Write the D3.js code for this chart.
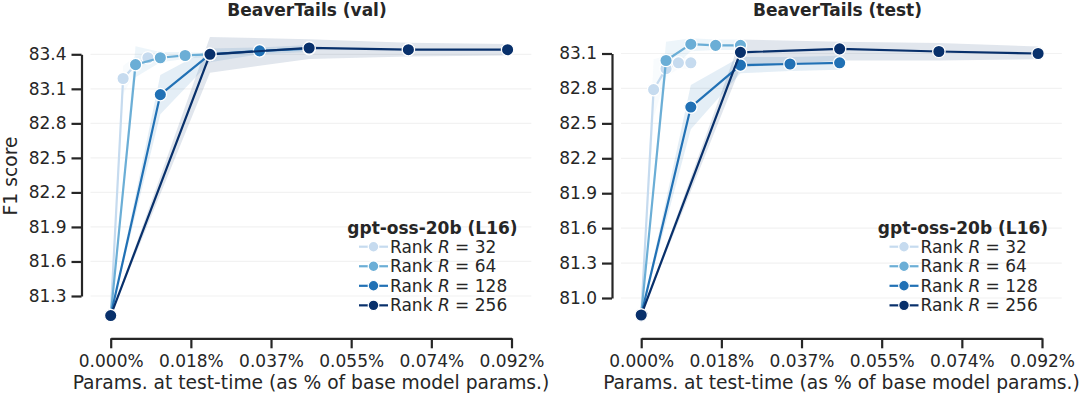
<!DOCTYPE html>
<html>
<head>
<meta charset="utf-8">
<script src="https://cdn.jsdelivr.net/npm/d3@7"></script>
<style>
  body { margin: 0; background: #fff; }
  svg text { font-family: "DejaVu Sans", sans-serif; fill: #262626; }
</style>
</head>
<body>
<svg id="chart" width="1080" height="397"></svg>
<script>
// ranks / colours (seaborn Blues, 4 steps)
const ranks = [32, 64, 128, 256];
const rankColors = ["#c6dbef", "#6baed6", "#2171b5", "#08306b"];

// params at test time, % of base model params (first point = base model)
const x_r32 = [0, 0.00285, 0.0057, 0.00854, 0.01139];
const x_r64 = [0, 0.0057, 0.01139, 0.01708, 0.02278];
const x_r128 = [0, 0.01139, 0.02278, 0.03416, 0.04555];
const x_r256 = [0, 0.02278, 0.04555, 0.06833, 0.0911];

const xTicks = [0, 0.0184, 0.0368, 0.0552, 0.0736, 0.092];
const xTickLabels = ["0.000%", "0.018%", "0.037%", "0.055%", "0.074%", "0.092%"];

// BeaverTails (val)
const val_r32 = [81.13, 83.19, 83.31, 83.37, 83.37];
const val_r64 = [81.13, 83.31, 83.37, 83.39, 83.40];
const val_r128 = [81.13, 83.05, 83.40, 83.43, 83.45];
const val_r256 = [81.13, 83.40, 83.455, 83.44, 83.44];
const val_r32_lo = [81.13, 83.05, 83.25, 83.33, 83.34];
const val_r32_hi = [81.13, 83.30, 83.38, 83.41, 83.41];
const val_r64_lo = [81.13, 83.20, 83.33, 83.36, 83.38];
const val_r64_hi = [81.13, 83.47, 83.42, 83.42, 83.41];
const val_r128_lo = [81.13, 82.88, 83.33, 83.40, 83.42];
const val_r128_hi = [81.13, 83.22, 83.45, 83.46, 83.48];
const val_r256_lo = [81.13, 83.24, 83.36, 83.38, 83.39];
const val_r256_hi = [81.13, 83.55, 83.53, 83.50, 83.49];
const valYTicks = [81.3, 81.6, 81.9, 82.2, 82.5, 82.8, 83.1, 83.4];

// BeaverTails (test)
const test_r32 = [80.854, 82.79, 82.97, 83.02, 83.02];
const test_r64 = [80.854, 83.04, 83.18, 83.17, 83.17];
const test_r128 = [80.854, 82.64, 83.00, 83.01, 83.02];
const test_r256 = [80.854, 83.11, 83.14, 83.117, 83.10];
const test_r32_lo = [80.854, 82.55, 82.90, 82.97, 82.97];
const test_r32_hi = [80.854, 83.05, 83.08, 83.07, 83.07];
const test_r64_lo = [80.854, 82.92, 83.12, 83.13, 83.13];
const test_r64_hi = [80.854, 83.20, 83.23, 83.22, 83.22];
const test_r128_lo = [80.854, 82.45, 82.93, 82.95, 82.96];
const test_r128_hi = [80.854, 82.83, 83.07, 83.07, 83.08];
const test_r256_lo = [80.854, 82.98, 83.04, 83.04, 83.05];
const test_r256_hi = [80.854, 83.22, 83.20, 83.19, 83.16];
const testYTicks = [81.0, 81.3, 81.6, 81.9, 82.2, 82.5, 82.8, 83.1];

const xs = [x_r32, x_r64, x_r128, x_r256];

const svg = d3.select("#chart");

const drawPanel = function (offset, title, yTicks, yRange, vals, los, his, showYLabel) {
    const g = svg.append("g").attr("transform", "translate(" + offset + ",0)");

    const x = d3.scaleLinear().domain([0, 0.092]).range([110.7, 511.5]);
    const y = d3.scaleLinear().domain([yTicks[0], yTicks[yTicks.length - 1]]).range(yRange);

    // faint horizontal grid
    g.selectAll(".grid").data(yTicks).enter().append("line")
        .attr("x1", 90.5).attr("x2", 531.3)
        .attr("y1", d => y(d)).attr("y2", d => y(d))
        .attr("stroke", "#f2f2f2").attr("stroke-width", 1.2);

    // axes (despined + trimmed)
    const yAx = g.append("g").attr("transform", "translate(81.5,0)")
        .call(d3.axisLeft(y).tickValues(yTicks).tickFormat(d3.format(".1f"))
            .tickSize(10).tickSizeOuter(0).tickPadding(5));
    const xAx = g.append("g").attr("transform", "translate(0,338.3)")
        .call(d3.axisBottom(x).tickValues(xTicks).tickFormat((d, i) => xTickLabels[i])
            .tickSize(10).tickSizeOuter(0).tickPadding(7));
    [yAx, xAx].forEach(function (ax) {
        ax.attr("font-size", 17).attr("font-family", "DejaVu Sans");
        ax.select(".domain").attr("stroke", "#262626").attr("stroke-width", 2.2);
        ax.selectAll(".tick line").attr("stroke", "#262626").attr("stroke-width", 2.2);
        ax.selectAll(".tick text").attr("fill", "#262626");
    });

    // error bands first (below all lines)
    const area = d3.area()
        .x(d => x(d.x)).y0(d => y(d.lo)).y1(d => y(d.hi));
    const series = ranks.map(function (r, k) {
        return xs[k].map(function (xv, i) {
            return {x: xv, v: vals[k][i], lo: los[k][i], hi: his[k][i]};
        });
    });
    series.forEach(function (s, k) {
        g.append("path").datum(s)
            .attr("d", area)
            .attr("fill", rankColors[k])
            .attr("fill-opacity", 0.12);
    });

    const line = d3.line().x(d => x(d.x)).y(d => y(d.v));
    series.forEach(function (s, k) {
        g.append("path").datum(s)
            .attr("d", line)
            .attr("fill", "none")
            .attr("stroke", rankColors[k])
            .attr("stroke-width", 2.2);
        g.selectAll(".pt" + k).data(s).enter().append("circle")
            .attr("cx", d => x(d.x)).attr("cy", d => y(d.v))
            .attr("r", 6.2)
            .attr("fill", rankColors[k])
            .attr("stroke", "white").attr("stroke-width", 1.3);
    });

    // title and labels
    g.append("text").attr("x", 307).attr("y", 15.5)
        .attr("text-anchor", "middle").attr("font-size", 17).attr("font-weight", "bold")
        .text(title);
    g.append("text").attr("x", 311).attr("y", 389)
        .attr("text-anchor", "middle").attr("font-size", 18.7)
        .text("Params. at test-time (as % of base model params.)");
    if (showYLabel) {
        g.append("text").attr("transform", "translate(17,176) rotate(-90)")
            .attr("text-anchor", "middle").attr("font-size", 18.7)
            .text("F1 score");
    }

    // legend
    const leg = g.append("g");
    leg.append("text").attr("x", 347.3).attr("y", 234)
        .attr("font-size", 17).attr("font-weight", "bold")
        .text("gpt-oss-20b (L16)");
    ranks.forEach(function (r, k) {
        const cy = 246.7 + k * 19.55;
        leg.append("line").attr("x1", 359).attr("x2", 388).attr("y1", cy).attr("y2", cy)
            .attr("stroke", rankColors[k]).attr("stroke-width", 2.2);
        leg.append("circle").attr("cx", 373.5).attr("cy", cy).attr("r", 5.3)
            .attr("fill", rankColors[k]).attr("stroke", "white").attr("stroke-width", 1.2);
        const t = leg.append("text").attr("x", 390).attr("y", cy + 6).attr("font-size", 17);
        t.append("tspan").text("Rank ");
        t.append("tspan").attr("font-style", "italic").text("R");
        t.append("tspan").text(" = " + r);
    });
};

drawPanel(0, "BeaverTails (val)", valYTicks, [296, 54.3],
    [val_r32, val_r64, val_r128, val_r256],
    [val_r32_lo, val_r64_lo, val_r128_lo, val_r256_lo],
    [val_r32_hi, val_r64_hi, val_r128_hi, val_r256_hi], true);

drawPanel(530.5, "BeaverTails (test)", testYTicks, [298, 53.5],
    [test_r32, test_r64, test_r128, test_r256],
    [test_r32_lo, test_r64_lo, test_r128_lo, test_r256_lo],
    [test_r32_hi, test_r64_hi, test_r128_hi, test_r256_hi], false);
</script>
</body>
</html>
